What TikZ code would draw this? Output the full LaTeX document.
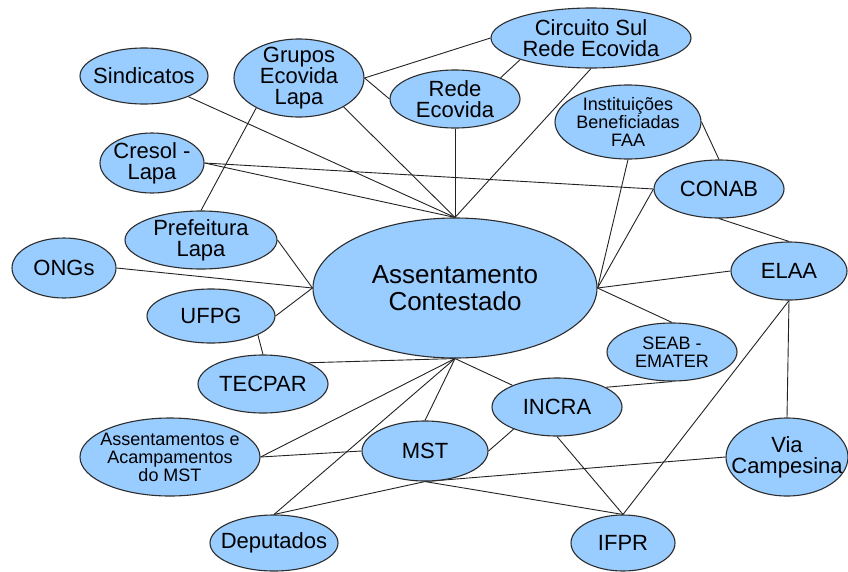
\documentclass[tikz,border=0pt]{standalone}
\usepackage{fontspec}
\setmainfont{Liberation Sans}
\usetikzlibrary{shapes.geometric,backgrounds}
\definecolor{nodefill}{RGB}{153,204,255}
\definecolor{nodeline}{RGB}{45,45,45}
\definecolor{edgeline}{RGB}{35,35,35}
\tikzset{
  ell/.style={ellipse, draw=nodeline, fill=nodefill, line width=1.1pt, inner sep=0pt},
  tx/.style={align=center, inner sep=0pt, font=\fontsize{22}{21}\selectfont},
  txs/.style={align=center, inner sep=0pt, font=\fontsize{18}{18}\selectfont},
  txb/.style={align=center, inner sep=0pt, font=\fontsize{26}{27}\selectfont},
  edge/.style={draw=edgeline, line width=0.9pt}
}
\begin{document}
\begin{tikzpicture}[x=1pt,y=-1pt]
\useasboundingbox (0,0) rectangle (848,571);
% nodes
\node[ell, minimum width=284pt, minimum height=140pt, label={[txb]center:Assentamento\\Contestado}] (ac) at (455,288) {};
\node[ell, minimum width=128pt, minimum height=56pt, label={[tx]center:Sindicatos}] (sind) at (144,76) {};
\node[ell, minimum width=130pt, minimum height=78pt, label={[tx]center:Grupos\\Ecovida\\Lapa}] (grupos) at (299,78) {};
\node[ell, minimum width=104pt, minimum height=60pt, label={[tx]center:Cresol -\\Lapa}] (cresol) at (152,163) {};
\node[ell, minimum width=152pt, minimum height=58pt, label={[tx]center:Prefeitura\\Lapa}] (pref) at (201,240) {};
\node[ell, minimum width=104pt, minimum height=60pt, label={[tx]center:ONGs}] (ongs) at (64,268) {};
\node[ell, minimum width=128pt, minimum height=54pt, label={[tx]center:UFPG}] (ufpg) at (211,316) {};
\node[ell, minimum width=130pt, minimum height=58pt, label={[tx]center:TECPAR}] (tecpar) at (263,384) {};
\node[ell, minimum width=180pt, minimum height=78pt, label={[txs]center:Assentamentos e\\Acampamentos\\do MST}] (assac) at (170,457) {};
\node[ell, minimum width=128pt, minimum height=56pt, label={[tx]center:Deputados}] (dep) at (274,543) {};
\node[ell, minimum width=126pt, minimum height=60pt, label={[tx]center:MST}] (mst) at (425,451) {};
\node[ell, minimum width=130pt, minimum height=58pt, label={[tx]center:INCRA}] (incra) at (557,407) {};
\node[ell, minimum width=130pt, minimum height=58pt, label={[txs]center:SEAB -\\EMATER}] (seab) at (672,352) {};
\node[ell, minimum width=104pt, minimum height=56pt, label={[tx]center:IFPR}] (ifpr) at (623,543) {};
\node[ell, minimum width=122pt, minimum height=78pt, label={[tx]center:Via\\Campesina}] (via) at (787,457) {};
\node[ell, minimum width=116pt, minimum height=58pt, label={[tx]center:ELAA}] (elaa) at (789,271) {};
\node[ell, minimum width=130pt, minimum height=58pt, label={[tx]center:CONAB}] (conab) at (719,189) {};
\node[ell, minimum width=146pt, minimum height=74pt, label={[txs]center:Instituições\\Beneficiadas\\FAA}] (inst) at (628,122) {};
\node[ell, minimum width=200pt, minimum height=60pt, label={[tx]center:Circuito Sul\\Rede Ecovida}] (circ) at (591,38) {};
\node[ell, minimum width=130pt, minimum height=58pt, label={[tx]center:Rede\\Ecovida}] (rede) at (455,99) {};
% edges
\begin{pgfonlayer}{background}
\fill[white] (0,0) rectangle (848,571);
\draw[edge] (sind.-25) -- (ac.north);
\draw[edge] (grupos.-33) -- (ac.north);
\draw[edge] (grupos.east) -- (circ.west);
\draw[edge] (grupos.east) -- (rede.west);
\draw[edge] (rede.25) -- (circ.197);
\draw[edge] (rede.south) -- (ac.north);
\draw[edge] (circ.south) -- (ac.north);
\draw[edge] (cresol.east) -- (conab.west);
\draw[edge] (cresol.east) -- (ac.north);
\draw[edge] (pref.north) -- (grupos.215);
\draw[edge] (pref.east) -- (ac.west);
\draw[edge] (ongs.east) -- (ac.west);
\draw[edge] (ufpg.east) -- (ac.west);
\draw[edge] (ufpg.-22) -- (tecpar.north);
\draw[edge] (tecpar.25) -- (ac.south);
\draw[edge] (assac.east) -- (ac.south);
\draw[edge] (assac.east) -- (mst.west);
\draw[edge] (dep.north) -- (ac.south);
\draw[edge] (dep.north) -- (mst.south);
\draw[edge] (mst.south) -- (ifpr.north);
\draw[edge] (mst.south) -- (via.west);
\draw[edge] (mst.north) -- (ac.south);
\draw[edge] (mst.east) -- (incra.207);
\draw[edge] (incra.154) -- (ac.south);
\draw[edge] (incra.22) -- (seab.south);
\draw[edge] (incra.south) -- (ifpr.north);
\draw[edge] (seab.north) -- (ac.east);
\draw[edge] (elaa.west) -- (ac.east);
\draw[edge] (elaa.south) -- (via.north);
\draw[edge] (elaa.south) -- (ifpr.north);
\draw[edge] (conab.west) -- (ac.east);
\draw[edge] (conab.south) -- (elaa.north);
\draw[edge] (inst.east) -- (conab.north);
\draw[edge] (inst.south) -- (ac.east);
\end{pgfonlayer}
\end{tikzpicture}
\end{document}
